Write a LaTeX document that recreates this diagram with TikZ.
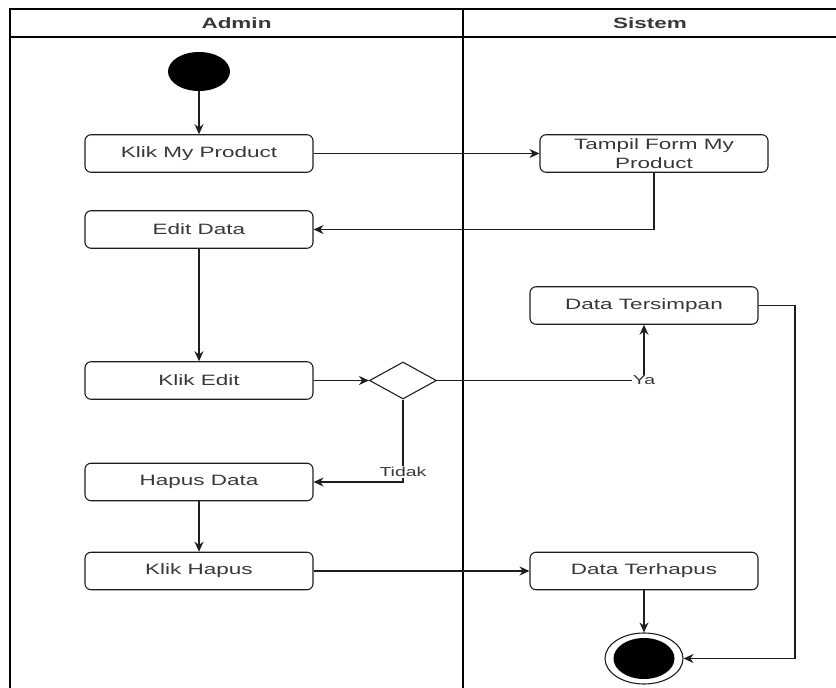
\documentclass[tikz,border=0pt]{standalone}
\usepackage{fontspec}
\newfontfamily\drawfont[FakeStretch=1.5]{Liberation Sans}
\usepackage{tikz}
\usetikzlibrary{arrows.meta, positioning, shapes.geometric}
\definecolor{ink}{HTML}{1E1E1E}
\definecolor{txt}{HTML}{383838}

\begin{document}
\begin{tikzpicture}[x=1pt,y=-1pt,on grid,>={Stealth[length=10pt,width=9pt]},
    font=\drawfont\fontsize{15}{19}\selectfont]
    \tikzstyle{act}=[shape=rectangle,rounded corners=6pt,draw=ink,line width=1.1pt,
        minimum width=228pt,minimum height=37.5pt,inner sep=1pt,align=center,text=txt]
    \tikzstyle{ini}=[shape=ellipse,fill=black,minimum width=62pt,minimum height=39pt,inner sep=0pt]
    \tikzstyle{fin}=[shape=ellipse,draw=ink,line width=1.1pt,minimum width=78pt,minimum height=51pt,inner sep=0pt]
    \tikzstyle{finin}=[shape=ellipse,fill=black,minimum width=61pt,minimum height=41pt,inner sep=0pt]
    \tikzstyle{dec}=[shape=diamond,draw=ink,line width=1.1pt,minimum width=67pt,minimum height=37pt,inner sep=0pt]
    \tikzstyle{lbl}=[fill=white,inner sep=1pt,text=txt,font=\drawfont\fontsize{13}{15}\selectfont]
    \tikzstyle{lane}=[draw=black,line width=1.6pt]

    \useasboundingbox (0,0) rectangle (836,688);

    % swimlanes
    \draw[lane] (10,688) -- (10,9) -- (836,9);
    \draw[lane,line width=1.2pt] (10,37) -- (836,37);
    \draw[lane,line width=1.2pt] (463,9) -- (463,688);
    \node[text=txt,font=\drawfont\bfseries\fontsize{15}{17}\selectfont] (H1) at (236.5,23) {Admin};
    \node[text=txt,font=\drawfont\bfseries\fontsize{15}{17}\selectfont] (H2) at (650,23) {Sistem};

    \node[ini] (A1) at (199,71.5) {};
    \node[act, below=82pt of A1] (A2) {Klik My Product};
    \node[act, below=76pt of A2] (A3) {Edit Data};
    \node[act, below=151pt of A3] (A4) {Klik Edit};
    \node[act, below=101.5pt of A4] (A5) {Hapus Data};
    \node[act, below=89pt of A5] (A6) {Klik Hapus};
    \node[dec, right=204pt of A4] (D1) {};
    \node[act, right=455pt of A2] (S1) {Tampil Form My\\Product};
    \node[act] (S2) at (644,305.5) {Data Tersimpan};
    \node[act, right=445pt of A6] (S3) {Data Terhapus};
    \node[fin, below=87.5pt of S3] (S4) {};
    \node[finin] (S5) at (S4) {};
    \coordinate (R1) at (795,305.5);

    \path[->,draw,line width=1.1pt,ink]
    (A1) edge (A2)
    (A2) edge (S1)
    (A3) edge (A4)
    (A4) edge (D1)
    (A5) edge (A6)
    (A6) edge (S3)
    (S3) edge (S4)
    ;
    \draw[->,line width=1.1pt,ink] (S1) |- (A3);
    \draw[->,line width=1.1pt,ink] (D1) -| node[lbl,pos=0.5] {Ya} (S2);
    \draw[->,line width=1.1pt,ink] (D1) |- node[lbl,pos=0.44] {Tidak} (A5);
    \draw[->,line width=1.1pt,ink] (S2) -- (R1) |- (S4);

\end{tikzpicture}
\end{document}
